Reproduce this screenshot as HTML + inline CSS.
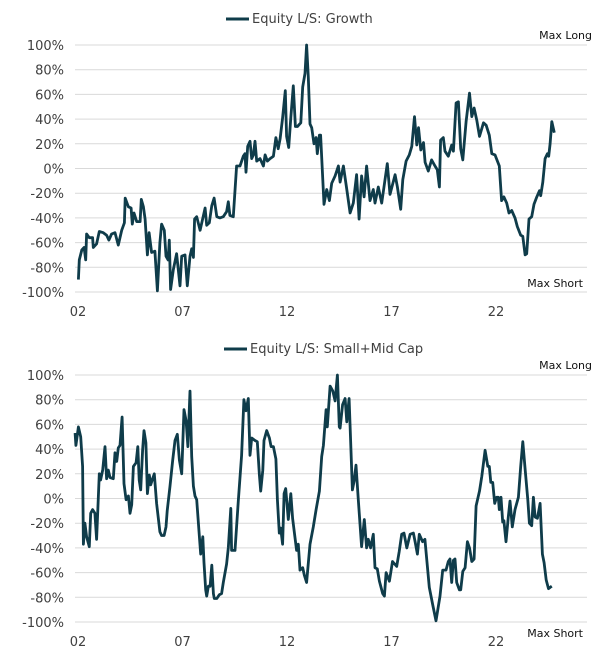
<!DOCTYPE html>
<html><head><meta charset="utf-8">
<style>
html,body{margin:0;padding:0;background:#fff;}
svg{display:block;font-family:"DejaVu Sans","Liberation Sans",sans-serif;}
</style></head>
<body>
<svg id="chart" width="609" height="662" viewBox="0 0 609 662"></svg>
<script>
// shared axis data
const yTicks = [100, 80, 60, 40, 20, 0, -20, -40, -60, -80, -100];
const xTickYears = [0, 5, 10, 15, 20];
const xTickLabels = ["02", "07", "12", "17", "22"];

// Growth series: years since 2002, net positioning %
const growthT = [0.02,0.06,0.18,0.29,0.37,0.41,0.54,0.70,0.73,0.89,1.02,1.21,1.37,1.48,1.61,1.77,1.93,2.09,2.22,2.26,2.41,2.54,2.60,2.68,2.81,2.97,3.03,3.13,3.21,3.32,3.40,3.52,3.68,3.80,3.92,4.00,4.13,4.21,4.31,4.37,4.43,4.56,4.72,4.88,4.96,5.12,5.23,5.36,5.44,5.52,5.58,5.68,5.84,6.08,6.16,6.28,6.40,6.51,6.64,6.79,6.95,7.11,7.19,7.27,7.43,7.59,7.75,7.91,7.99,8.04,8.12,8.23,8.31,8.39,8.47,8.55,8.71,8.87,8.95,9.06,9.19,9.35,9.47,9.58,9.67,9.79,9.92,9.98,10.08,10.18,10.30,10.40,10.50,10.66,10.75,10.86,10.94,11.02,11.10,11.18,11.29,11.39,11.45,11.55,11.61,11.77,11.90,12.03,12.14,12.30,12.46,12.54,12.70,12.86,13.02,13.17,13.33,13.45,13.57,13.69,13.81,13.97,14.13,14.21,14.37,14.53,14.80,14.93,15.17,15.28,15.44,15.54,15.70,15.85,15.97,16.10,16.21,16.29,16.40,16.53,16.61,16.76,16.92,17.08,17.19,17.29,17.35,17.48,17.56,17.72,17.88,17.96,18.09,18.20,18.31,18.41,18.57,18.73,18.84,18.95,19.08,19.21,19.40,19.53,19.68,19.80,19.95,20.16,20.27,20.38,20.51,20.62,20.75,20.91,21.02,21.18,21.28,21.39,21.47,21.58,21.71,21.82,21.95,22.08,22.14,22.24,22.35,22.46,22.52,22.59,22.67,22.79];
const growthV = [-90,-74,-66,-64,-74,-53,-56,-56,-64,-61,-51,-52,-54,-58,-53,-52,-62,-50,-44,-24,-31,-32,-45,-36,-43,-43,-25,-31,-41,-70,-52,-68,-67,-99,-60,-45,-50,-71,-74,-58,-98,-82,-69,-95,-71,-70,-95,-71,-65,-72,-41,-39,-50,-32,-46,-44,-30,-24,-39,-40,-39,-35,-27,-38,-39,2,2,10,12,-3,18,22,8,11,22,6,8,2,11,6,8,10,25,16,24,41,63,26,17,41,67,34,34,37,66,77,100,74,36,33,20,25,12,27,27,-29,-17,-26,-12,-6,2,-11,2,-17,-36,-28,-5,-41,-6,-23,2,-26,-17,-28,-15,-28,4,-21,-5,-15,-33,-9,6,11,18,42,19,33,15,21,5,-2,7,2,-1,-15,23,25,14,10,19,14,53,54,16,7,38,61,42,49,39,26,37,35,27,12,11,2,-26,-23,-28,-36,-34,-40,-47,-54,-55,-70,-69,-41,-39,-29,-23,-18,-22,-11,8,12,10,20,38,29];

// Small+Mid Cap series
const smidT = [-0.14,-0.10,0.02,0.13,0.22,0.26,0.33,0.41,0.54,0.61,0.70,0.81,0.89,1.02,1.08,1.18,1.29,1.37,1.45,1.53,1.69,1.77,1.85,1.93,2.01,2.11,2.20,2.30,2.41,2.49,2.57,2.65,2.78,2.86,2.93,3.00,3.09,3.16,3.25,3.32,3.41,3.48,3.57,3.65,3.76,3.92,4.00,4.12,4.21,4.27,4.40,4.53,4.64,4.75,4.85,4.96,5.07,5.17,5.26,5.36,5.44,5.52,5.60,5.68,5.81,5.87,5.97,6.03,6.11,6.16,6.24,6.32,6.40,6.48,6.52,6.64,6.76,6.87,6.95,7.11,7.19,7.31,7.35,7.51,7.67,7.83,7.94,8.04,8.15,8.23,8.31,8.47,8.58,8.68,8.74,8.84,8.90,9.03,9.16,9.24,9.35,9.47,9.54,9.63,9.70,9.79,9.86,9.94,10.06,10.18,10.27,10.38,10.46,10.54,10.62,10.75,10.83,10.94,11.10,11.26,11.39,11.55,11.66,11.74,11.87,11.93,12.06,12.19,12.30,12.41,12.50,12.54,12.66,12.78,12.86,12.97,13.13,13.21,13.30,13.41,13.57,13.70,13.81,13.89,14.00,14.13,14.21,14.32,14.42,14.58,14.66,14.74,14.90,15.05,15.25,15.37,15.49,15.60,15.73,15.89,16.05,16.13,16.24,16.33,16.49,16.60,16.81,16.97,17.13,17.32,17.45,17.61,17.72,17.80,17.88,17.96,18.04,18.12,18.25,18.31,18.41,18.52,18.63,18.73,18.84,18.95,19.05,19.21,19.32,19.48,19.61,19.68,19.75,19.84,19.94,20.03,20.11,20.16,20.24,20.32,20.38,20.48,20.59,20.67,20.78,20.91,21.07,21.18,21.28,21.39,21.52,21.60,21.71,21.79,21.87,21.98,22.11,22.22,22.30,22.40,22.51,22.59,22.67];
const smidV = [53,43,58,50,26,-37,-20,-31,-39,-12,-9,-12,-33,20,15,23,42,16,23,17,16,37,30,41,43,66,12,-1,2,-12,-5,26,29,42,15,7,39,55,45,4,19,11,16,20,-4,-27,-30,-30,-23,-10,10,31,47,52,31,20,72,63,42,87,34,10,2,-1,-31,-45,-31,-52,-74,-79,-71,-71,-54,-77,-81,-81,-78,-77,-68,-53,-40,-8,-42,-42,-2,35,80,71,81,35,49,47,46,19,6,23,47,55,49,42,42,32,-1,-28,-24,-37,4,8,-17,4,-16,-31,-42,-37,-58,-56,-62,-68,-37,-23,-9,6,34,43,72,58,91,87,79,100,58,57,76,81,62,81,7,14,27,-1,-39,-17,-40,-33,-40,-29,-56,-57,-67,-77,-79,-60,-67,-51,-55,-43,-29,-28,-40,-29,-28,-35,-45,-29,-35,-33,-72,-86,-99,-79,-58,-58,-51,-49,-68,-50,-49,-68,-74,-74,-59,-56,-35,-40,-51,-49,-6,6,18,39,26,26,13,13,-4,1,1,-9,1,-19,-18,-35,-15,-2,-23,-9,1,26,46,24,-1,-20,-22,1,-15,-16,-4,-45,-52,-66,-73,-72,-71];

const NS = "http://www.w3.org/2000/svg";
const svg = document.getElementById("chart");
const X0 = 78, PX_PER_YEAR = 20.9, GRID_L = 75, GRID_R = 587;
function xScale(t){ return X0 + t * PX_PER_YEAR; }
function mk(tag, attrs, parent){
  const e = document.createElementNS(NS, tag);
  for (const k in attrs) e.setAttribute(k, attrs[k]);
  (parent || svg).appendChild(e);
  return e;
}

function drawPanel(cfg){
  const g = mk("g", {});
  
  
  const yScale = v => cfg.top + (100 - v) / 200 * (cfg.bottom - cfg.top);

  yTicks.forEach(v => {
    const gl = mk("line", {x1: GRID_L, x2: GRID_R, y1: yScale(v), y2: yScale(v), stroke: "#d9d9d9", "stroke-width": 1}, g);
    
    
    const tl = mk("text", {x: 64, y: yScale(v) + 5, "text-anchor": "end", "font-size": 13, fill: "#404040"}, g);
    tl.textContent = v + "%";
    
    
  });

  xTickYears.forEach((t, i) => {
    const xl = mk("text", {x: xScale(t), y: cfg.bottom + 24, "text-anchor": "middle", "font-size": 13, fill: "#404040"}, g);
    xl.textContent = xTickLabels[i];
    
    
  });

  let d = "";
  cfg.t.forEach((t, i) => {
    d += (i ? "L" : "M") + xScale(t).toFixed(1) + "," + yScale(cfg.v[i]).toFixed(1);
  });
  const path = mk("path", {d: d, fill: "none", stroke: "#0f3c4a", "stroke-width": 2.8, "stroke-linejoin": "round"}, g);
  
  

  const lg = mk("g", {}, g);
  
  
  mk("line", {x1: cfg.legendX, x2: cfg.legendX + 23, y1: cfg.legendY - 4, y2: cfg.legendY - 4, stroke: "#0f3c4a", "stroke-width": 3}, lg);
  const lt = mk("text", {x: cfg.legendX + 26, y: cfg.legendY, "font-size": 13, fill: "#404040"}, lg);
  lt.textContent = cfg.title;

  const ml = mk("text", {x: 592, y: cfg.maxLongY, "text-anchor": "end", "font-size": 11, fill: "#111"}, g);
  ml.textContent = "Max Long";
  
  
  const ms = mk("text", {x: 583, y: cfg.maxShortY, "text-anchor": "end", "font-size": 11, fill: "#111"}, g);
  ms.textContent = "Max Short";
  
  
}

drawPanel({name: "growth-chart", title: "Equity L/S: Growth", t: growthT, v: growthV, top: 45, bottom: 292, legendX: 226, legendY: 23, maxLongY: 39, maxShortY: 287});
drawPanel({name: "small-mid-cap-chart", title: "Equity L/S: Small+Mid Cap", t: smidT, v: smidV, top: 375, bottom: 622, legendX: 224, legendY: 353, maxLongY: 369, maxShortY: 637});
</script>
</body></html>
